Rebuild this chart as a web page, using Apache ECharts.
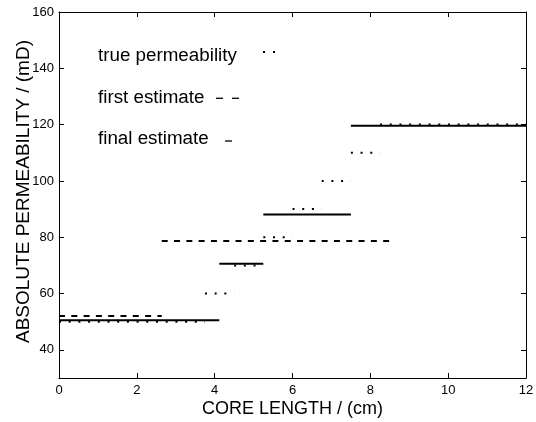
<!DOCTYPE html>
<html>
<head>
<meta charset="utf-8">
<script src="https://cdn.jsdelivr.net/npm/echarts@6/dist/echarts.min.js"></script>
<style>
html,body{margin:0;padding:0;background:#fff;}
#chart{width:536px;height:422px;}
</style>
</head>
<body>
<div id="chart"></div>
<script>
// True permeability (step profile)
var trueStart = [0, 3.75, 4.5, 5.25, 6, 6.75, 7.5, 8.25];
var trueEnd   = [3.75, 4.5, 5.25, 6, 6.75, 7.5, 8.25, 12];
var trueValue = [50, 60, 70, 80, 90, 100, 110, 120];

// First estimate
var firstStart = [0, 2.64];
var firstEnd   = [2.64, 8.6];
var firstValue = [52, 78.7];

// Final estimate
var finalStart = [0, 4.12, 5.25, 7.5];
var finalEnd   = [4.12, 5.25, 7.5, 12];
var finalValue = [50.5, 70.6, 88.1, 119.6];

var xTicks = [0, 2, 4, 6, 8, 10, 12];
var yTicks = [40, 60, 80, 100, 120, 140, 160];

var legendLabels = ['true permeability', 'first estimate', 'final estimate'];

var FONT = 'Liberation Sans, Arial, Helvetica, sans-serif';

function segSeries(name, starts, ends, vals, lineStyle, z) {
  var out = [];
  for (var i = 0; i < starts.length; i++) {
    out.push({
      name: name,
      type: 'line',
      xAxisIndex: 0,
      yAxisIndex: 0,
      data: [[starts[i], vals[i]], [ends[i], vals[i]]],
      symbol: 'none',
      silent: true,
      animation: false,
      z: z,
      lineStyle: lineStyle
    });
  }
  return out;
}

var series = []
  .concat(segSeries(legendLabels[0], trueStart, trueEnd, trueValue,
      {color: '#000', width: 2, type: [2, 7.7], cap: 'butt'}, 3))
  .concat(segSeries(legendLabels[1], firstStart, firstEnd, firstValue,
      {color: '#000', width: 2, type: [6, 6.3], cap: 'butt'}, 4))
  .concat(segSeries(legendLabels[2], finalStart, finalEnd, finalValue,
      {color: '#000', width: 2, type: 'solid', cap: 'butt'}, 5));

var axisLineStyle = {color: '#000', width: 1};

var chart = echarts.init(document.getElementById('chart'), null, {renderer: 'canvas'});
chart.setOption({
  backgroundColor: '#fff',
  animation: false,
  grid: {left: 59, right: 10, top: 12, bottom: 44, containLabel: false, outerBoundsMode: 'none'},
  xAxis: [{
    type: 'value', min: 0, max: 12, interval: 2, position: 'bottom',
    name: 'CORE LENGTH / (cm)', nameLocation: 'middle', nameGap: 22, nameMoveOverlap: false,
    nameTextStyle: {fontFamily: FONT, fontSize: 18, color: '#000'},
    axisLine: {show: true, onZero: false, lineStyle: axisLineStyle},
    axisTick: {show: true, inside: true, length: 5, lineStyle: axisLineStyle, customValues: xTicks},
    axisLabel: {show: true, margin: 6, fontFamily: FONT, fontSize: 13, color: '#000', customValues: xTicks},
    splitLine: {show: false}
  }, {
    type: 'value', min: 0, max: 12, interval: 2, position: 'top',
    axisLine: {show: true, onZero: false, lineStyle: axisLineStyle},
    axisTick: {show: true, inside: true, length: 5, lineStyle: axisLineStyle, customValues: xTicks},
    axisLabel: {show: false},
    splitLine: {show: false}
  }],
  yAxis: [{
    type: 'value', min: 30, max: 160, position: 'left',
    name: 'ABSOLUTE PERMEABILITY / (mD)', nameLocation: 'middle', nameGap: 26, nameMoveOverlap: false,
    nameTextStyle: {fontFamily: FONT, fontSize: 19, color: '#000', padding: [0, 0, 0, 7]},
    axisLine: {show: true, onZero: false, lineStyle: axisLineStyle},
    axisTick: {show: true, inside: true, length: 5, lineStyle: axisLineStyle, customValues: yTicks},
    axisLabel: {show: true, margin: 5, fontFamily: FONT, fontSize: 13, color: '#000', customValues: yTicks},
    splitLine: {show: false}
  }, {
    type: 'value', min: 30, max: 160, position: 'right',
    axisLine: {show: true, onZero: false, lineStyle: axisLineStyle},
    axisTick: {show: true, inside: true, length: 5, lineStyle: axisLineStyle, customValues: yTicks},
    axisLabel: {show: false},
    splitLine: {show: false}
  }],
  series: series,
  graphic: [
    {type: 'text', left: 98, top: 46, silent: true,
     style: {text: legendLabels[0], font: '18.8px ' + FONT, fill: '#000'}},
    {type: 'text', left: 98, top: 88, silent: true,
     style: {text: legendLabels[1], font: '18.8px ' + FONT, fill: '#000'}},
    {type: 'text', left: 98, top: 129.5, silent: true,
     style: {text: legendLabels[2], font: '18.8px ' + FONT, fill: '#000'}},
    {type: 'line', silent: true, shape: {x1: 263, y1: 52, x2: 265, y2: 52}, style: {stroke: '#000', lineWidth: 2}},
    {type: 'line', silent: true, shape: {x1: 273, y1: 52, x2: 275, y2: 52}, style: {stroke: '#000', lineWidth: 2}},
    {type: 'line', silent: true, shape: {x1: 216, y1: 98.3, x2: 223, y2: 98.3}, style: {stroke: '#000', lineWidth: 1.3}},
    {type: 'line', silent: true, shape: {x1: 232, y1: 98.3, x2: 239, y2: 98.3}, style: {stroke: '#000', lineWidth: 1.3}},
    {type: 'line', silent: true, shape: {x1: 225, y1: 141, x2: 232, y2: 141}, style: {stroke: '#000', lineWidth: 1.3}}
  ]
});
</script>
</body>
</html>
